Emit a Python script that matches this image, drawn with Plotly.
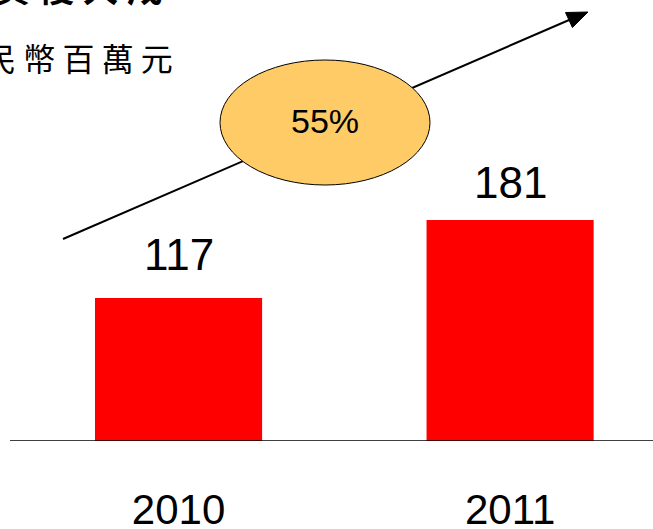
import plotly.graph_objects as go

# ---- data ----
years = ["2010", "2011"]
values = [117, 181]
growth_label = "55%"
unit_label = "人 民 幣 百 萬 元"
title_label = "標 資 複 大 成"
label_offsets = [44, 37]

W, H = 653, 529
PLOT_H = 441  # plot area height in px (baseline at 441)


def px(x):
    return x / W


def py(y):
    return 1 - y / PLOT_H


fig = go.Figure()
fig.add_trace(go.Bar(
    x=years, y=values,
    marker=dict(color="#FF0000", line=dict(width=0)),
    hoverinfo="skip",
))

# value labels above bars
annotations = []
for i, (v, off) in enumerate(zip(values, label_offsets)):
    annotations.append(dict(
        x=i, y=v, xref="x", yref="y", text=str(v), showarrow=False,
        yanchor="middle", yshift=off,
        font=dict(family="Liberation Sans, Arial", size=44, color="black"),
    ))

# growth label inside ellipse
annotations.append(dict(
    x=px(325), y=py(121), xref="paper", yref="paper", text=growth_label,
    showarrow=False, xanchor="center", yanchor="middle",
    font=dict(family="Liberation Sans, Arial", size=34, color="black"),
))
# unit subtitle (cropped on left)
annotations.append(dict(
    x=px(175), y=py(57), xref="paper", yref="paper", text=unit_label,
    showarrow=False, xanchor="right", yanchor="middle",
    font=dict(family="Noto Sans CJK TC", size=32, color="black"),
))
# top title (cropped at top)
annotations.append(dict(
    x=px(165), y=py(14), xref="paper", yref="paper", text="<b>" + title_label + "</b>",
    showarrow=False, xanchor="right", yanchor="bottom",
    font=dict(family="Noto Sans CJK TC", size=36, color="black"),
))

# arrow geometry (pixels)
x0, y0, x1, y1 = 63, 239, 588, 12
shapes = [
    # baseline
    dict(type="line", xref="paper", yref="y", x0=px(10), x1=1, y0=0, y1=0,
         line=dict(color="black", width=1.5), layer="above"),
    # arrow shaft
    dict(type="line", xref="paper", yref="paper", x0=px(x0), y0=py(y0),
         x1=px(x1 - 12), y1=py(y1 + 5), line=dict(color="black", width=2), layer="above"),
    # arrow head
    dict(type="path", xref="paper", yref="paper",
         path=f"M {px(588)} {py(12)} L {px(572.4)} {py(27.5)} L {px(565.5)} {py(12.5)} Z",
         fillcolor="black", line=dict(color="black", width=1), layer="above"),
    # ellipse
    dict(type="circle", xref="paper", yref="paper", x0=px(220), x1=px(430),
         y0=py(185), y1=py(60), fillcolor="#FECB66",
         line=dict(color="black", width=1), layer="above"),
]

fig.update_layout(
    width=W, height=H,
    margin=dict(l=0, r=0, t=0, b=H - PLOT_H, pad=0, autoexpand=False),
    paper_bgcolor="white", plot_bgcolor="white",
    showlegend=False,
    bargap=0.496,
    xaxis=dict(type="category", range=[-0.5385, 1.431], showgrid=False,
               zeroline=False, showline=False, ticks="", automargin=False,
               tickfont=dict(family="Liberation Sans, Arial", size=42, color="black"),
               ticklabelstandoff=40, fixedrange=True),
    yaxis=dict(range=[0, PLOT_H / 1.2215], visible=False, fixedrange=True,
               automargin=False),
    annotations=annotations,
    shapes=shapes,
)

fig.write_html(
    "out.html",
    config={"displayModeBar": False},
    post_script="document.body.style.margin='0';document.body.style.overflow='hidden';",
)
